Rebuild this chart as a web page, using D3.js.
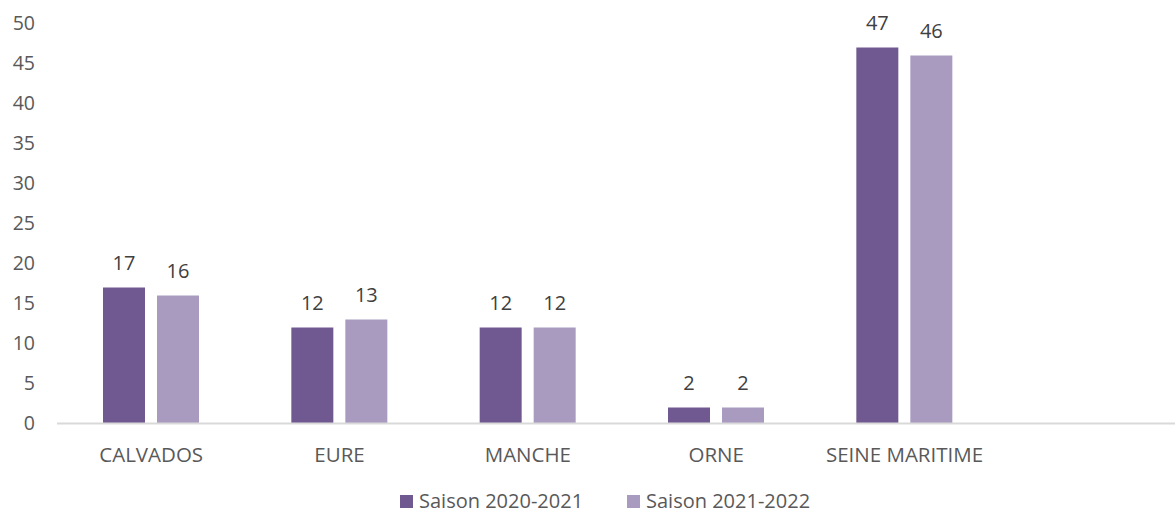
<!DOCTYPE html>
<html><head><meta charset="utf-8">
<script src="https://cdn.jsdelivr.net/npm/d3@7"></script>
<style>body{margin:0;background:#fff}svg{display:block}</style>
</head><body><svg id="c" width="1175" height="515"></svg>
<script>
const categories = ["CALVADOS", "EURE", "MANCHE", "ORNE", "SEINE MARITIME", ""];
const seriesNames = ["Saison 2020-2021", "Saison 2021-2022"];
const s2020 = [17, 12, 12, 2, 47, null];
const s2021 = [16, 13, 12, 2, 46, null];
const yTicks = [0, 5, 10, 15, 20, 25, 30, 35, 40, 45, 50];
const colors = ["#705890", "#A99ABF"];

const svg = d3.select("#c");
const font = "'Open Sans', 'Noto Sans', sans-serif";
const x = d3.scaleBand().domain(categories).range([57, 1187]).paddingInner(0).paddingOuter(0);
const x1 = d3.scaleBand().domain([0, 1]).range([46, 142]).paddingInner(12/54);
const y = d3.scaleLinear().domain([0, 50]).range([423.5, 23.5]);

// y tick labels
svg.append("g").selectAll("text").data(yTicks).join("text")
  .attr("x", 35).attr("y", d => y(d)).attr("dy", "0.35em")
  .attr("text-anchor", "end").attr("fill", "#595959")
  .style("font-family", font).style("font-size", "19.5px").text(d => d);

const series = [s2020, s2021];
series.forEach((vals, si) => {
  const data = categories.map((c, i) => ({c, v: vals[i]})).filter(d => d.v != null);
  svg.append("g").selectAll("rect").data(data).join("rect")
    .attr("x", d => x(d.c) + x1(si)).attr("width", x1.bandwidth())
    .attr("y", d => y(d.v)).attr("height", d => y(0) - y(d.v))
    .attr("fill", colors[si]);
  svg.append("g").selectAll("text").data(data).join("text")
    .attr("x", d => x(d.c) + x1(si) + x1.bandwidth()/2).attr("y", d => y(d.v) - 18)
    .attr("text-anchor", "middle").attr("fill", "#404040")
    .style("font-family", font).style("font-size", "20px").text(d => d.v);
});

// x axis
const xAxis = d3.axisBottom(x).tickSize(0).tickPadding(0);
const gx = svg.append("g").attr("transform", `translate(0,${y(0)})`).call(xAxis);
gx.select(".domain").attr("stroke", "#d9d9d9").attr("stroke-width", 2).attr("d", "M57,0H1175");
gx.selectAll("text").attr("y", 31).attr("dy", "0.35em").attr("fill", "#595959")
  .style("font-family", font).style("font-size", "20.5px");

// legend
const leg = [{n: seriesNames[0], x: 400, c: colors[0]}, {n: seriesNames[1], x: 627, c: colors[1]}];
const lg = svg.append("g");
leg.forEach(l => {
  lg.append("rect").attr("x", l.x).attr("y", 495).attr("width", 13).attr("height", 13).attr("fill", l.c);
  lg.append("text").attr("x", l.x + 19).attr("y", 501).attr("dy", "0.35em").attr("fill", "#595959")
    .style("font-family", font).style("font-size", "20px").text(l.n);
});
</script></body></html>
